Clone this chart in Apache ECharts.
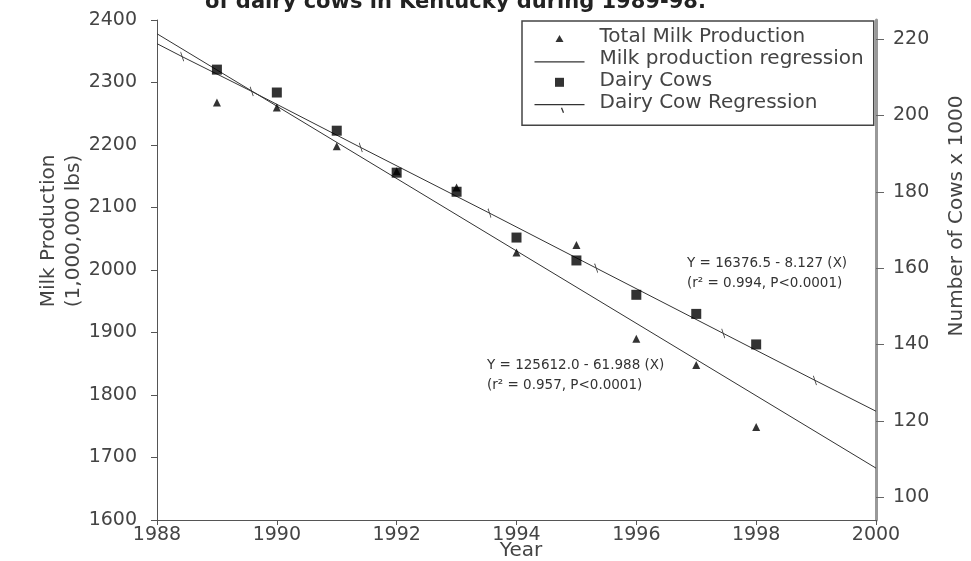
<!DOCTYPE html>
<html>
<head>
<meta charset="utf-8">
<script src="https://cdn.jsdelivr.net/npm/echarts@6/dist/echarts.min.js"></script>
<style>html,body{margin:0;padding:0;background:#fff;}#c{width:971px;height:561px;}</style>
</head>
<body>
<div id="c"></div>
<script>
// ---- data ----
var years = [1989, 1990, 1991, 1992, 1993, 1994, 1995, 1996, 1997, 1998];
var milkProduction = [2268, 2260, 2198, 2158, 2132, 2028, 2040, 1890, 1848, 1749]; // 1,000,000 lbs
var dairyCows = [212, 206, 196, 185, 180, 168, 162, 153, 148, 140];                 // cows x 1000
var milkRegYears = [1988, 2000];
var milkRegValues = [2378, 1683];
var cowRegYears = [1988, 1988.42, 1989.58, 1991.4, 1993.55, 1995.33, 1997.45, 1998.98, 2000];
var cowRegValues = [218.8, 215.4, 206.3, 191.6, 174.4, 160.0, 142.9, 130.6, 122.5];
var xTicks = [1988, 1990, 1992, 1994, 1996, 1998, 2000];
var leftTicks = [1600, 1700, 1800, 1900, 2000, 2100, 2200, 2300, 2400];
var rightTicks = [100, 120, 140, 160, 180, 200, 220];
var titleText = 'of dairy cows in Kentucky during 1989-98.';
var milkEq = ['Y = 125612.0 - 61.988 (X)', '(r\u00B2 = 0.957, P<0.0001)'];
var cowEq = ['Y = 16376.5 - 8.127 (X)', '(r\u00B2 = 0.994, P<0.0001)'];

var FONT = '"DejaVu Sans", Verdana, sans-serif';
var TXT = '#444';
var plain = function (v) { return String(v); };

function pairs(xs, ys) { return xs.map(function (x, i) { return [x, ys[i]]; }); }

var cowRegData = pairs(cowRegYears, cowRegValues).map(function (p, i, arr) {
  if (i === 0 || i === arr.length - 1) return { value: p, symbol: 'none' };
  return p;
});

// legend icons (50 x 20 boxes, extents fixed by the leading moveTo points)
var BOX = 'M0,0M50,20';
var iconTriangle = 'path://' + BOX + 'M21,15L25,8L29,15Z';
var iconMilkLine = 'path://' + BOX + 'M0,13L50,13';
var iconSquare = 'path://' + BOX + 'M20.5,7L29.5,7L29.5,16L20.5,16Z';
var iconCowLine = 'path://' + BOX + 'M0,12L50,12M27,15L29,20';

var chart = echarts.init(document.getElementById('c'), null, { renderer: 'canvas' });
chart.setOption({
  backgroundColor: '#fff',
  animation: false,
  textStyle: { fontFamily: FONT },
  grid: { left: 157, top: 20, width: 719, height: 500, containLabel: false },
  xAxis: {
    type: 'value', min: 1988, max: 2000, interval: 2,
    axisLine: { show: true, lineStyle: { color: '#555', width: 1 } },
    axisTick: { show: true, length: 5, inside: false, customValues: xTicks, lineStyle: { color: '#555' } },
    axisLabel: { customValues: xTicks, formatter: plain, color: TXT, fontSize: 19, fontFamily: FONT, margin: 6 },
    splitLine: { show: false }
  },
  yAxis: [{
    type: 'value', position: 'left', min: 1600, max: 2400, interval: 100,
    axisLine: { show: true, lineStyle: { color: '#555', width: 1 } },
    axisTick: { show: true, length: 6, lineStyle: { color: '#555' } },
    axisLabel: { formatter: plain, color: TXT, fontSize: 19, fontFamily: FONT, margin: 20 },
    splitLine: { show: false }
  }, {
    type: 'value', position: 'right', min: 94, max: 225,
    axisLine: { show: true, lineStyle: { color: '#999', width: 3 } },
    axisTick: { show: true, length: 8, customValues: rightTicks, lineStyle: { color: '#666' } },
    axisLabel: { customValues: rightTicks, formatter: plain, color: TXT, fontSize: 19, fontFamily: FONT, margin: 17 },
    splitLine: { show: false }
  }],
  legend: {
    orient: 'vertical', left: 522, top: 21,
    padding: [6, 10, 10, 10], itemGap: -0.6,
    itemWidth: 50, itemHeight: 20, symbolKeepAspect: true,
    borderColor: '#444', borderWidth: 1.5, backgroundColor: '#fff',
    textStyle: { color: TXT, fontSize: 20, fontFamily: FONT, lineHeight: 20, padding: [0, 0, 0, 10] },
    data: [
      { name: 'Total Milk Production', icon: iconTriangle, itemStyle: { color: '#000', borderWidth: 0 } },
      { name: 'Milk production regression', icon: iconMilkLine, itemStyle: { color: 'none', borderColor: '#333', borderWidth: 1.3 } },
      { name: 'Dairy Cows', icon: iconSquare, itemStyle: { color: '#000', borderWidth: 0 } },
      { name: 'Dairy Cow Regression', icon: iconCowLine, itemStyle: { color: 'none', borderColor: '#333', borderWidth: 1.3 } }
    ]
  },
  series: [{
    name: 'Total Milk Production', type: 'scatter', yAxisIndex: 0,
    symbol: 'triangle', symbolSize: 8,
    itemStyle: { color: '#000' },
    data: pairs(years, milkProduction), z: 5
  }, {
    name: 'Milk production regression', type: 'line', yAxisIndex: 0,
    symbol: 'none', lineStyle: { color: '#333', width: 1 },
    itemStyle: { color: '#333' },
    data: pairs(milkRegYears, milkRegValues), z: 3
  }, {
    name: 'Dairy Cows', type: 'scatter', yAxisIndex: 1,
    symbol: 'rect', symbolSize: 10,
    itemStyle: { color: '#000' },
    data: pairs(years, dairyCows), z: 4
  }, {
    name: 'Dairy Cow Regression', type: 'line', yAxisIndex: 1,
    symbol: 'path://M0,0L3,10', symbolSize: [3, 9], showSymbol: true,
    lineStyle: { color: '#333', width: 1 },
    itemStyle: { color: '#333', borderColor: '#333', borderWidth: 1 },
    data: cowRegData, z: 3
  }],
  graphic: [
    { type: 'text', x: 205, y: 2.5, style: { text: titleText, font: 'bold 21px ' + FONT, fill: '#222', align: 'left', verticalAlign: 'middle', textAlign: 'left', textVerticalAlign: 'middle' } },
    { type: 'text', x: 61, y: 231, rotation: Math.PI / 2, style: { text: 'Milk Production\n(1,000,000 lbs)', font: '20px ' + FONT, fill: TXT, lineHeight: 25, align: 'center', verticalAlign: 'middle', textAlign: 'center', textVerticalAlign: 'middle' } },
    { type: 'text', x: 957, y: 216, rotation: Math.PI / 2, style: { text: 'Number of Cows x 1000', font: '20px ' + FONT, fill: TXT, align: 'center', verticalAlign: 'middle', textAlign: 'center', textVerticalAlign: 'middle' } },
    { type: 'text', x: 521, y: 551, style: { text: 'Year', font: '20px ' + FONT, fill: TXT, align: 'center', verticalAlign: 'middle', textAlign: 'center', textVerticalAlign: 'middle' } },
    { type: 'text', x: 687, y: 273, style: { text: cowEq.join('\n'), font: '13.5px ' + FONT, fill: '#333', lineHeight: 20, align: 'left', verticalAlign: 'middle', textAlign: 'left', textVerticalAlign: 'middle' } },
    { type: 'text', x: 487, y: 375, style: { text: milkEq.join('\n'), font: '13.5px ' + FONT, fill: '#333', lineHeight: 20, align: 'left', verticalAlign: 'middle', textAlign: 'left', textVerticalAlign: 'middle' } }
  ]
});
</script>
</body>
</html>
